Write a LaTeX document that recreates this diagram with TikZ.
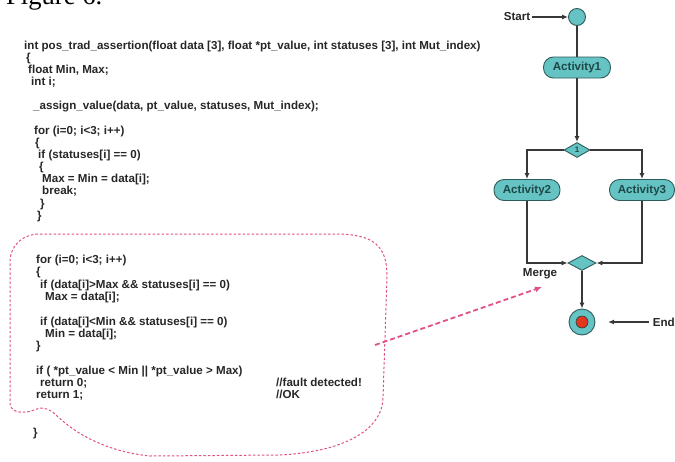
\documentclass[tikz,border=0pt]{standalone}
\usepackage{fontspec}
\setmainfont{Liberation Sans}
\newfontfamily\figserif{Liberation Serif}
\usetikzlibrary{arrows.meta,shapes.geometric}

\definecolor{tealfill}{HTML}{66C3C3}
\definecolor{tealline}{HTML}{2E5C5C}
\definecolor{tealtext}{HTML}{1E4848}
\definecolor{wire}{HTML}{383838}
\definecolor{pinkdash}{HTML}{E0508A}
\definecolor{endred}{HTML}{E2361F}
\definecolor{codeink}{HTML}{262626}

\tikzset{
  codeline/.style={anchor=base west, inner sep=0pt, text=codeink,
    font=\bfseries\fontsize{11.6}{12}\selectfont},
  lbl/.style={inner sep=0pt, text=codeink,
    font=\bfseries\fontsize{11.6}{12}\selectfont},
  activity/.style={draw=tealline, fill=tealfill, line width=0.9pt,
    rounded corners=10pt, minimum width=67pt, minimum height=21pt,
    inner sep=0pt, text=tealtext, font=\bfseries\fontsize{11.6}{12}\selectfont},
  decision/.style={diamond, draw=tealline, fill=tealfill, line width=0.9pt,
    inner sep=0pt, minimum width=#1, minimum height=15pt, aspect=2,
    text=tealtext, font=\bfseries\fontsize{8}{9}\selectfont},
  flow/.style={draw=wire, line width=1.3pt},
  flowarrow/.style={flow, -{Latex[length=6pt,width=5pt]}},
  bubble/.style={draw=pinkdash, line width=1pt, dash pattern=on 2.5pt off 2pt},
  pointer/.style={draw=pinkdash, line width=1.8pt, dash pattern=on 5pt off 3pt,
    -{Latex[length=7pt,width=6pt]}}
}

\begin{document}
\begin{tikzpicture}[x=1pt,y=-1pt]
\useasboundingbox (0,0) rectangle (675,461);

% caption, partly above the page
\node[anchor=base west, inner sep=0pt, font=\figserif\fontsize{26.6}{28}\selectfont]
  (caption) at (6,4) {Figure 6.};

% ---------- source listing ----------
\node[codeline] (c1)  at (24,49)  {int pos\_trad\_assertion(float data [3], float *pt\_value, int statuses [3], int Mut\_index)};
\node[codeline] (c2)  at (26,61)  {\{};
\node[codeline] (c3)  at (28,73)  {float Min, Max;};
\node[codeline] (c4)  at (31,85)  {int i;};
\node[codeline] (c5)  at (33,109) {\_assign\_value(data, pt\_value, statuses, Mut\_index);};
\node[codeline] (c6)  at (34,134) {for (i=0; i<3; i++)};
\node[codeline] (c7)  at (35,146) {\{};
\node[codeline] (c8)  at (38,158) {if (statuses[i] == 0)};
\node[codeline] (c9)  at (39,170) {\{};
\node[codeline] (c10) at (42,182) {Max = Min = data[i];};
\node[codeline] (c11) at (42,194) {break;};
\node[codeline] (c12) at (40,207) {\}};
\node[codeline] (c13) at (37,219) {\}};

\node[codeline] (d1)  at (36,263) {for (i=0; i<3; i++)};
\node[codeline] (d2)  at (36,275) {\{};
\node[codeline] (d3)  at (40,288) {if (data[i]>Max \&\& statuses[i] == 0)};
\node[codeline] (d4)  at (45,300) {Max = data[i];};
\node[codeline] (d5)  at (40,325) {if (data[i]<Min \&\& statuses[i] == 0)};
\node[codeline] (d6)  at (45,337) {Min = data[i];};
\node[codeline] (d7)  at (36,349) {\}};
\node[codeline] (d8)  at (36,374) {if ( *pt\_value < Min || *pt\_value > Max)};
\node[codeline] (d9)  at (40,386) {return 0;};
\node[codeline] (d10) at (276,386) {//fault detected!};
\node[codeline] (d11) at (36,398) {return 1;};
\node[codeline] (d12) at (276,398) {//OK};
\node[codeline] (d13) at (33,436) {\}};

% dashed callout round the checking part
\path[bubble] (40,234) -- (335,234)
  .. controls (374,234) and (387,246) .. (387,276)
  -- (383,398)
  .. controls (382,432) and (340,452) .. (280,455)
  -- (150,456)
  .. controls (112,452) and (80,438) .. (56,415)
  .. controls (48,407) and (40,407) .. (34,410)
  .. controls (24,414) and (11,413) .. (10,404)
  -- (10,262)
  .. controls (10,246) and (22,234) .. (40,234) -- cycle;

% ---------- activity diagram ----------
\node[circle, draw=tealline, fill=tealfill, line width=0.9pt,
  minimum size=17pt, inner sep=0pt] (start) at (577,17) {};
\node[lbl] (startlbl) at (517,17) {Start};

\node[activity] (act1) at (577,67.5) {Activity1};
\node[decision=26pt] (fork) at (577,150) {1};
\node[activity, minimum width=66pt] (act2) at (527,190) {Activity2};
\node[activity, minimum width=65pt] (act3) at (642,190) {Activity3};
\node[decision=28pt] (merge) at (582,263) {};
\node[lbl] (mergelbl) at (540,274) {Merge};

\node[circle, draw=tealline, fill=tealfill, line width=0.9pt,
  minimum size=26pt, inner sep=0pt] (final) at (582,322) {};
\node[circle, draw=tealline!70!black, fill=endred, line width=0.6pt,
  minimum size=12pt, inner sep=0pt] (finaldot) at (final) {};
\node[lbl, anchor=east] (endlbl) at (675,322) {End};
\coordinate (endtip) at (608,322);

\draw[flowarrow] (startlbl.east) ++(2,0) coordinate (starttail) -- (start.west);
\draw[flow] (start.south) -- (act1.north);
\draw[flowarrow] (act1.south) -- (fork.north);
\draw[flowarrow] (fork.west) -| (act2.north);
\draw[flowarrow] (fork.east) -| (act3.north);
\draw[flowarrow] (act2.south) |- (merge.west);
\draw[flowarrow] (act3.south) |- (merge.east);
\draw[flowarrow] (merge.south) -- (final.north);
\draw[flowarrow] (endlbl.west) ++(-4,0) coordinate (endtail) -- (endtip);

% pointer from the listing to the merge node
\coordinate (ptrstart) at (375,345);
\coordinate (ptrend) at (542,287);
\draw[pointer] (ptrstart) -- (ptrend);
\end{tikzpicture}
\end{document}
